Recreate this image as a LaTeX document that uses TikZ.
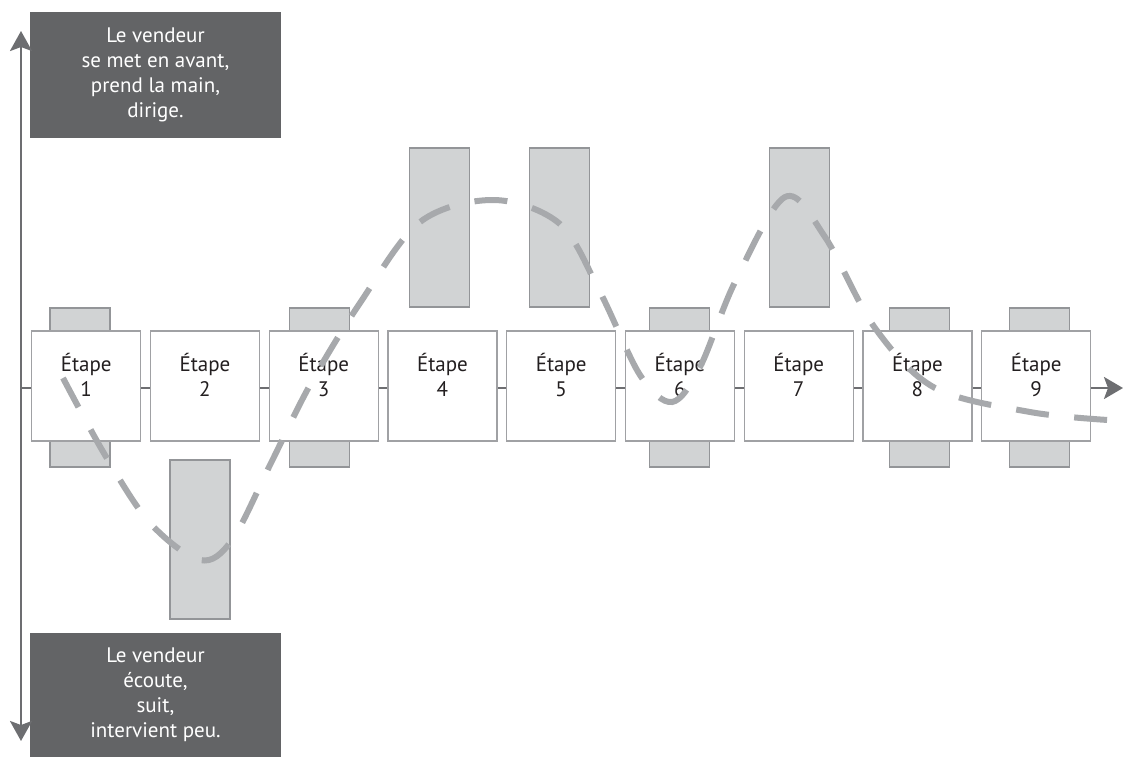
\documentclass[tikz,border=0pt]{standalone}
\usepackage{fontspec}
\setmainfont{PT Sans}
\usetikzlibrary{arrows.meta}
\definecolor{darkbox}{HTML}{636466}
\definecolor{axisgray}{HTML}{6D6E71}
\definecolor{lightfill}{HTML}{D1D3D4}
\definecolor{rectedge}{HTML}{939598}
\definecolor{boxedge}{HTML}{A0A1A4}
\definecolor{curvegray}{HTML}{A7A9AC}
\definecolor{steptextcol}{HTML}{231F20}
\tikzset{
  axisline/.style={draw=axisgray, line width=2.6pt},
  biarrow/.style={{Stealth[length=20pt,width=22pt,inset=4pt]}-{Stealth[length=20pt,width=22pt,inset=4pt]}},
  endarrow/.style={-{Stealth[length=19pt,width=22pt,inset=4pt]}},
  stepbox/.style={draw=boxedge, fill=white, line width=1.2pt, minimum width=109pt, minimum height=110pt, inner sep=0pt},
  steptext/.style={align=center, font=\fontsize{21}{25}\selectfont, text=steptextcol, inner sep=0pt},
  barbox/.style={draw=rectedge, fill=lightfill, line width=1.2pt},
  darkpanel/.style={fill=darkbox, minimum width=251pt, inner sep=0pt, align=center, text=white, font=\fontsize{21}{25}\selectfont},
  curve/.style={draw=curvegray, line width=6pt, dash pattern=on 33pt off 25.5pt}
}
\begin{document}
\begin{tikzpicture}[x=1pt,y=-1pt]
\useasboundingbox (0,0) rectangle (1124,756);
% panels
\node[darkpanel, minimum height=126pt] (toppanel) at (155.5,75) {Le vendeur\\se met en avant,\\prend la main,\\dirige.};
\node[darkpanel, minimum height=124pt] (botpanel) at (155.5,695) {Le vendeur\\écoute,\\suit,\\intervient peu.};
% axes
\coordinate (vtop) at (21,31);
\coordinate (vbot) at (21,741);
\coordinate (hstart) at (21,388);
\coordinate (hend) at (1123,388);
\draw[axisline, biarrow] (vtop) -- (vbot);
\draw[axisline, endarrow] (hstart) -- (hend);
% bars (behind step boxes)
\foreach \i in {1,3,6,8,9} {
  \pgfmathsetmacro{\xl}{50+119.9*(\i-1)}
  \draw[barbox] (\xl,308) rectangle ++(60,30);
  \draw[barbox] (\xl,434) rectangle ++(60,33);
}
\foreach \i in {4,5,7} {
  \pgfmathsetmacro{\xl}{50+119.9*(\i-1)}
  \draw[barbox] (\xl,148) rectangle ++(60,159);
}
\draw[barbox] (170,460) rectangle (230,619);
% step boxes
\foreach \i in {1,...,9} {
  \pgfmathsetmacro{\xc}{86.2+118.75*(\i-1)}
  \node[stepbox] (s\i) at (\xc,386) {};
  \node[steptext] (t\i) at (\xc,375) {Étape\\\i};
}
% dashed curve
\draw[curve] plot[smooth, tension=0.55] coordinates {(63,378) (105,455) (150,523) (200,560) (232,540) (270,465) (310,385) (360,303) (420,222) (494,200) (560,224) (600,292) (640,375) (672,402) (700,367) (735,282) (785,197) (825,237) (875,328) (935,388) (1030,412) (1108,420)};
\end{tikzpicture}
\end{document}
